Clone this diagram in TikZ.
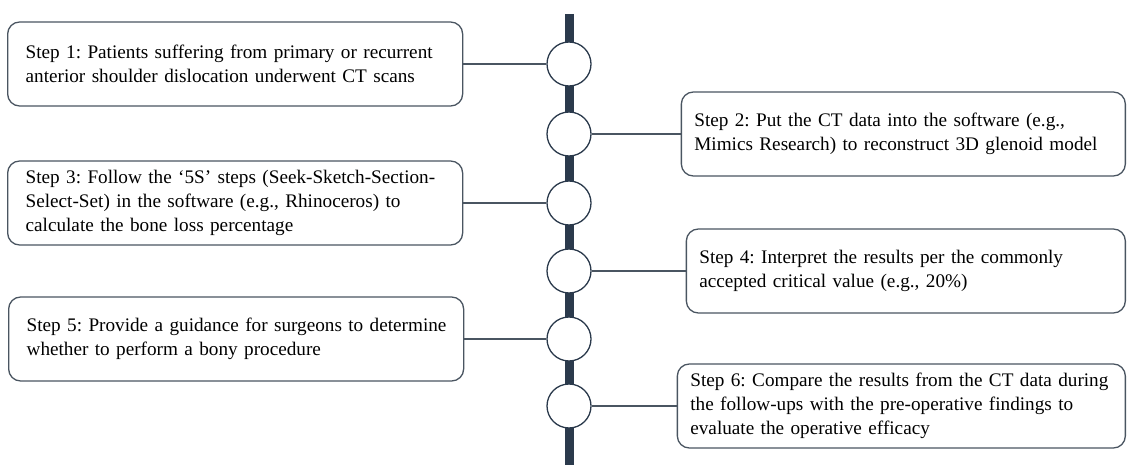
\documentclass[tikz,border=0pt]{standalone}
\usepackage{fontspec}
\setmainfont{Liberation Serif}
\usetikzlibrary{positioning}
\definecolor{barblue}{HTML}{2B3A4C}
\definecolor{edgegray}{HTML}{4A5561}

\begin{document}
\frenchspacing
\begin{tikzpicture}[
            x = 1pt, y = -1pt, % one unit is one pixel of the layout
            font = \fontsize{19.2}{24}\selectfont,
            link/.style = {draw = edgegray, line width = 1.2pt}, % box to circle
            stepbox/.style = {
                draw = edgegray,
                line width = 1.3pt,
                rounded corners = 12pt,
                minimum height = 84pt,
                align = left,
                inner ysep = 0pt
            }
        ]

        \tikzstyle{dot}=[
            circle,
            draw = barblue,
            line width = 1.3pt,
            fill = white,
            minimum size = 44pt,
            inner sep = 0pt
        ]

        \useasboundingbox (0,0) rectangle (1128,465);

        % the time line
        \coordinate (top) at (569,14);
        \coordinate (bottom) at (569,465);
        \draw[barblue, line width = 9pt] (top) -- (bottom);

        \node[dot] (c1) at (569,64) {};
        \node[dot] (c2) at (569,134) {};
        \node[dot] (c3) at (569,203) {};
        \node[dot] (c4) at (569,271) {};
        \node[dot] (c5) at (569,339) {};
        \node[dot] (c6) at (569,406) {};

        % steps on the left
        \node[stepbox, anchor = west, inner xsep = 18pt, text width = 419pt] (s1) at (7,64)
            {Step 1: Patients suffering from primary or recurrent\\anterior shoulder dislocation underwent CT scans};
        \node[stepbox, anchor = west, inner xsep = 18pt, text width = 419pt] (s3) at (7,203)
            {Step 3: Follow the `5S' steps (Seek-Sketch-Section-\\Select-Set) in the software (e.g., Rhinoceros) to\\calculate the bone loss percentage};
        \node[stepbox, anchor = west, inner xsep = 18pt, text width = 419pt] (s5) at (8,339)
            {\mbox{Step 5: Provide a guidance for surgeons to determine}\\whether to perform a bony procedure};

        % steps on the right
        \node[stepbox, anchor = east, inner xsep = 13pt, text width = 418pt] (s2) at (1126,134)
            {Step 2: Put the CT data into the software (e.g.,\\Mimics Research) to reconstruct 3D glenoid model};
        \node[stepbox, anchor = east, inner xsep = 13pt, text width = 413pt] (s4) at (1126,271)
            {Step 4: Interpret the results per the commonly\\accepted critical value (e.g., 20\%)};
        \node[stepbox, anchor = east, inner xsep = 13pt, text width = 422pt] (s6) at (1126,406)
            {\mbox{Step 6: Compare the results from the CT data during}\\the follow-ups with the pre-operative findings to\\evaluate the operative efficacy};

        \draw[link] (s1) -- (c1);
        \draw[link] (c2) -- (s2);
        \draw[link] (s3) -- (c3);
        \draw[link] (c4) -- (s4);
        \draw[link] (s5) -- (c5);
        \draw[link] (c6) -- (s6);
    \end{tikzpicture}
\end{document}
